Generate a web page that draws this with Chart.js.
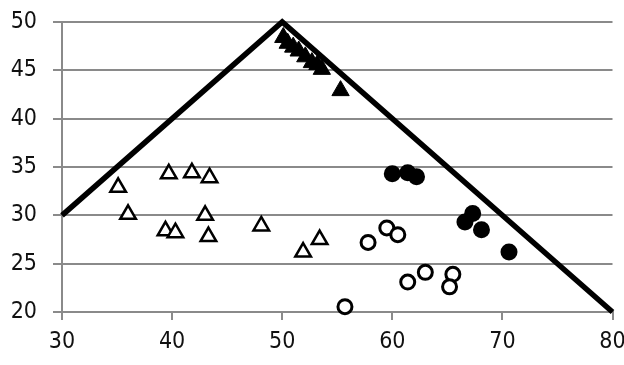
<!DOCTYPE html>
<html>
<head>
<meta charset="utf-8">
<script src="https://cdn.jsdelivr.net/npm/chart.js@4/dist/chart.umd.min.js"></script>
<style>
html,body{margin:0;padding:0;background:#fff;}
#wrap{width:624px;height:365px;position:relative;}
</style>
</head>
<body>
<div id="wrap"><canvas id="c" width="624" height="365"></canvas></div>
<script>
const lineX = [30, 50, 80];
const lineY = [30, 50, 20];

const filledTriX = [50.1, 50.5, 51.0, 51.5, 52.1, 52.7, 53.2, 53.6, 55.3];
const filledTriY = [48.4, 47.8, 47.4, 47.0, 46.4, 45.8, 45.6, 45.1, 42.9];

const openTriX = [35.1, 36.0, 39.7, 41.8, 43.4, 39.4, 40.3, 43.0, 43.3, 48.1, 51.9, 53.4];
const openTriY = [32.9, 30.1, 34.3, 34.4, 33.9, 28.4, 28.2, 30.0, 27.8, 28.9, 26.2, 27.5];

const openCircX = [55.7, 57.8, 59.5, 60.5, 61.4, 63.0, 65.5, 65.2];
const openCircY = [20.55, 27.2, 28.7, 28.0, 23.1, 24.1, 23.9, 22.6];

const filledCircX = [60.0, 61.4, 62.2, 66.6, 67.3, 68.1, 70.6];
const filledCircY = [34.3, 34.4, 34.0, 29.3, 30.2, 28.5, 26.2];

const xTicks = [30, 40, 50, 60, 70, 80];
const yTicks = [20, 25, 30, 35, 40, 45, 50];

const pts = (xs, ys) => xs.map((x, i) => ({x: x, y: ys[i]}));
const tickFont = {family: "'DejaVu Sans Condensed', 'Liberation Sans', sans-serif", size: 23};

new Chart(document.getElementById('c'), {
  type: 'scatter',
  data: {
    datasets: [
      {
        data: pts(lineX, lineY), showLine: true, borderColor: '#000', borderWidth: 5.5,
        pointRadius: 0, fill: false, clip: false, borderJoinStyle: 'miter'
      },
      {
        data: pts(filledTriX, filledTriY), pointStyle: 'triangle', pointRadius: 10,
        backgroundColor: '#000', borderColor: '#000', borderWidth: 1, clip: false
      },
      {
        data: pts(openTriX, openTriY), pointStyle: 'triangle', pointRadius: 9,
        backgroundColor: '#fff', borderColor: '#000', borderWidth: 2.5, clip: false
      },
      {
        data: pts(openCircX, openCircY), pointStyle: 'circle', pointRadius: 7,
        backgroundColor: '#fff', borderColor: '#000', borderWidth: 3, clip: false
      },
      {
        data: pts(filledCircX, filledCircY), pointStyle: 'circle', pointRadius: 8.5,
        backgroundColor: '#000', borderColor: '#000', borderWidth: 0, clip: false
      }
    ]
  },
  options: {
    responsive: false,
    animation: false,
    layout: {padding: {top: 22, right: 11, left: 0, bottom: 0}},
    plugins: {legend: {display: false}, tooltip: {enabled: false}},
    scales: {
      x: {
        type: 'linear', min: 30, max: 80,
        afterBuildTicks: s => { s.ticks = xTicks.map(v => ({value: v})); },
        afterFit: s => { s.height = 53; s.paddingLeft = 0; s.paddingRight = 0; },
        grid: {drawOnChartArea: false, drawTicks: true, tickLength: 8, color: '#8a8a8a', lineWidth: 2},
        border: {display: true, color: '#8a8a8a', width: 2},
        ticks: {color: '#111', padding: 8, font: tickFont, maxRotation: 0}
      },
      y: {
        type: 'linear', min: 20, max: 50,
        afterBuildTicks: s => { s.ticks = yTicks.map(v => ({value: v})); },
        afterFit: s => { s.width = 62; s.paddingTop = 0; s.paddingBottom = 0; },
        grid: {drawOnChartArea: true, drawTicks: true, tickLength: 9, color: '#8a8a8a', lineWidth: 2},
        border: {display: true, color: '#8a8a8a', width: 2},
        ticks: {color: '#111', padding: 16, font: tickFont}
      }
    }
  }
});
</script>
</body>
</html>
